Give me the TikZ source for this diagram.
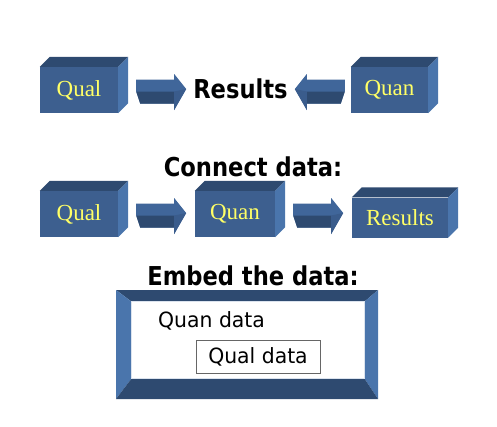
\documentclass[tikz,border=0pt]{standalone}
\usepackage{fontspec}
\setmainfont{Liberation Serif}
\newfontfamily\titlefont{DejaVu Sans}[FakeStretch=0.87]
\newfontfamily\bodyfont{DejaVu Sans}[FakeStretch=0.97]
\definecolor{facecol}{HTML}{3D5F8F}
\definecolor{topcol}{HTML}{2E4A70}
\definecolor{sidecol}{HTML}{4A75AC}
\definecolor{arrowfront}{HTML}{40669A}
\definecolor{arrowdark}{HTML}{2E4A70}
\definecolor{arrowmid}{HTML}{3A5C8C}
\definecolor{textyellow}{HTML}{FFFF66}
\tikzset{
  frontface/.style={fill=facecol, text=textyellow, inner sep=0pt,
    font=\fontsize{23}{23}\selectfont},
  title/.style={anchor=base, font=\titlefont\bfseries\fontsize{26}{26}\selectfont},
  bodytext/.style={font=\bodyfont\fontsize{21}{21}\selectfont, inner sep=0pt}
}
% top and side faces of a block
\newcommand{\blockfaces}[1]{%
  \fill[topcol] (#1.north west) -- ++(10,-10) -- ([shift={(10,-10)}]#1.north east) -- (#1.north east) -- cycle;
  \fill[sidecol] (#1.north east) -- ++(10,-10) -- ([shift={(10,-10)}]#1.south east) -- (#1.south east) -- cycle;
}
% block arrow, #1 start point, #2 direction
\newcommand{\blockarrow}[2]{%
  \begin{scope}[shift={#1}, xscale=#2]
    \fill[arrowfront] (0,-12) -- (38,-12) -- (38,-17.5) -- (50,-2.5) -- (38,18.5) -- (38,12) -- (4,12) -- (0,0) -- cycle;
    \fill[arrowdark] (0,0) -- (38,0) -- (38,12) -- (4,12) -- cycle;
    \fill[arrowmid] (38,0) -- (50,-2.5) -- (38,18.5) -- cycle;
  \end{scope}}
\begin{document}
\begin{tikzpicture}[x=1pt,y=-1pt]
\useasboundingbox (0,0) rectangle (497,426);

% first row
\node[frontface, minimum width=78pt, minimum height=46pt] (qual1) at (79,90) {Qual};
\node[frontface, minimum width=77pt, minimum height=46pt] (quan1) at (389.5,90) {Quan};
\blockfaces{qual1}
\blockfaces{quan1}
\node[title] (res1) at (240.5,98) {Results};
\blockarrow{([xshift=18pt,yshift=-1.5pt]qual1.east)}{1}
\blockarrow{([xshift=-6pt,yshift=-1.5pt]quan1.west)}{-1}

% second row
\node[title] (connect) at (253,176) {Connect data:};
\node[frontface, minimum width=78pt, minimum height=46pt] (qual2) at (79,214) {Qual};
\node[frontface, minimum width=80pt, minimum height=46pt] (quan2) at (235,214) {Quan};
\node[frontface, minimum width=96pt, minimum height=40pt] (res2) at (400,217.5) {Results};
\blockfaces{qual2}
\blockfaces{quan2}
\blockfaces{res2}
\blockarrow{([xshift=18pt,yshift=-1.5pt]qual2.east)}{1}
\blockarrow{([xshift=18pt,yshift=-1.5pt]quan2.east)}{1}

% third row
\node[title] (embedtitle) at (253,285) {Embed the data:};
\node[fill=white, minimum width=232pt, minimum height=76pt, inner sep=0pt] (embed) at (248,340) {};
\fill[topcol] (116,290) -- (378,290) -- (embed.north east) -- (embed.north west) -- cycle;
\fill[sidecol] (116,290) -- (embed.north west) -- (embed.south west) -- (116,399) -- cycle;
\fill[sidecol] (378,290) -- (embed.north east) -- (embed.south east) -- (378,399) -- cycle;
\fill[topcol] (116,399) -- (embed.south west) -- (embed.south east) -- (378,399) -- cycle;
\draw[white!80!sidecol, line width=1pt] (embed.north west) rectangle (embed.south east);
\node[bodytext, anchor=base west] (quandata) at (158,327) {Quan data};
\node[bodytext, draw=black!60, line width=0.8pt, minimum width=124pt, minimum height=33pt] (qualdata) at (258,356.5) {Qual data};
\end{tikzpicture}
\end{document}
